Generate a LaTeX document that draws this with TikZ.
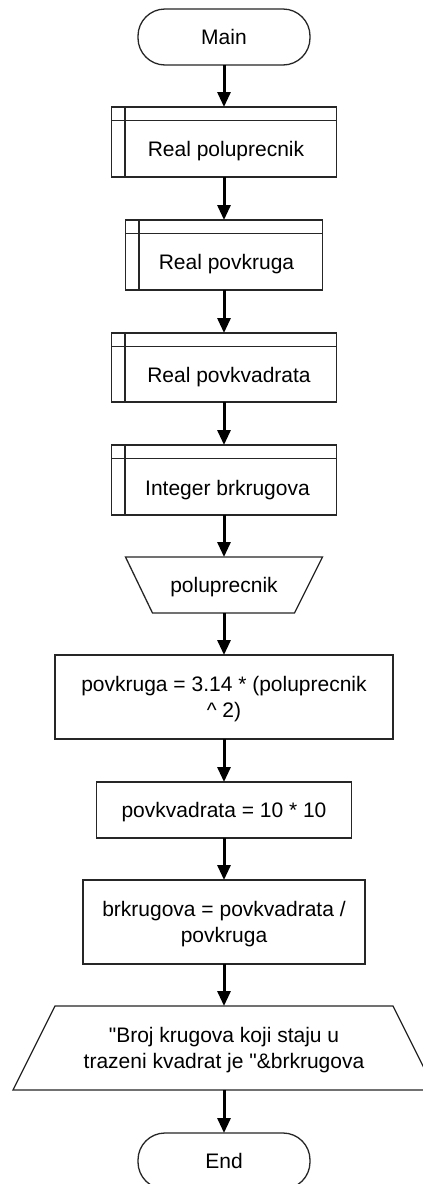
\documentclass[tikz,border=0pt]{standalone}
\usepackage{fontspec}
\setmainfont{Liberation Sans}[Ligatures=TeXOff]
\usetikzlibrary{arrows.meta,calc}
\tikzset{
  shapeline/.style={draw=black!85, line width=1.3pt},
  term/.style={shapeline, rounded corners=27pt, minimum width=172pt, minimum height=56pt, text height=15pt, text depth=0pt},
  proc/.style={shapeline, align=center},
  onelinetxt/.style={text height=15pt, text depth=0pt},
  twolinetxt/.style={align=center, text height=41.5pt, text depth=0pt},
  ghost/.style={},
  sub/.style={shapeline, path picture={
      \draw[line width=1.3pt, draw=black!85]
        ([yshift=-13.5pt]path picture bounding box.north west) -- ([yshift=-13.5pt]path picture bounding box.north east)
        ([xshift=13.5pt]path picture bounding box.north west) -- ([xshift=13.5pt]path picture bounding box.south west);}},
  flow/.style={line width=3pt, -{Triangle[length=15pt,width=13pt]}}
}
\begin{document}
\begin{tikzpicture}[x=1pt,y=1pt,
  every node/.style={font=\fontsize{21}{26.5}\selectfont, inner sep=0pt, outer sep=0pt}]
\useasboundingbox (0,0) rectangle (423,-1184);
\clip (0,0) rectangle (423,-1184);
\fill[white] (0,0) rectangle (423,-1184);

% terminator
\node[term] (main) at (224,-37) {Main};

% subroutine declaration boxes
\node[sub, minimum width=225pt, minimum height=70pt] (b1) at (224,-142) {};
\node[onelinetxt] (t1) at (226,-148.5) {Real poluprecnik};
\node[sub, minimum width=197pt, minimum height=70pt] (b2) at (224,-255) {};
\node[onelinetxt] (t2) at (226.5,-262) {Real povkruga};
\node[sub, minimum width=225pt, minimum height=69pt] (b3) at (224,-367.5) {};
\node[onelinetxt] (t3) at (229,-375) {Real povkvadrata};
\node[sub, minimum width=225pt, minimum height=70pt] (b4) at (224,-480) {};
\node[onelinetxt] (t4) at (227.5,-487.5) {Integer brkrugova};

% input trapezoid
\node[ghost, onelinetxt, minimum width=197pt, minimum height=56pt] (tr) at (224,-585) {poluprecnik};
\draw[shapeline] (tr.north west) -- (tr.north east) -- ($(tr.south east)+(-28,0)$) -- ($(tr.south west)+(27,0)$) -- cycle;

% process boxes
\node[proc, twolinetxt, minimum width=338pt, minimum height=84pt] (r1) at (224,-697) {povkruga = 3.14 * (poluprecnik\\ \textasciicircum{} 2)};
\node[proc, onelinetxt, minimum width=255pt, minimum height=56pt] (r2) at (224,-810) {povkvadrata = 10 * 10};
\node[proc, twolinetxt, minimum width=282pt, minimum height=84pt] (r3) at (224,-922) {brkrugova = povkvadrata /\\ povkruga};

% output shape
\node[ghost, twolinetxt, minimum width=338pt, minimum height=84pt] (pa) at (224,-1048) {"Broj krugova koji staju u\\ trazeni kvadrat je "\&brkrugova};
\draw[shapeline] (pa.north west) -- (pa.north east) -- ($(pa.south east)+(42,0)$) -- ($(pa.south west)+(-42,0)$) -- cycle;

% end
\node[term] (end) at (224,-1161) {End};

% connectors
\draw[flow] (main.south) -- (b1.north);
\draw[flow] (b1.south) -- (b2.north);
\draw[flow] (b2.south) -- (b3.north);
\draw[flow] (b3.south) -- (b4.north);
\draw[flow] (b4.south) -- (tr.north);
\draw[flow] (tr.south) -- (r1.north);
\draw[flow] (r1.south) -- (r2.north);
\draw[flow] (r2.south) -- (r3.north);
\draw[flow] (r3.south) -- (pa.north);
\draw[flow] (pa.south) -- (end.north);
\end{tikzpicture}
\end{document}
